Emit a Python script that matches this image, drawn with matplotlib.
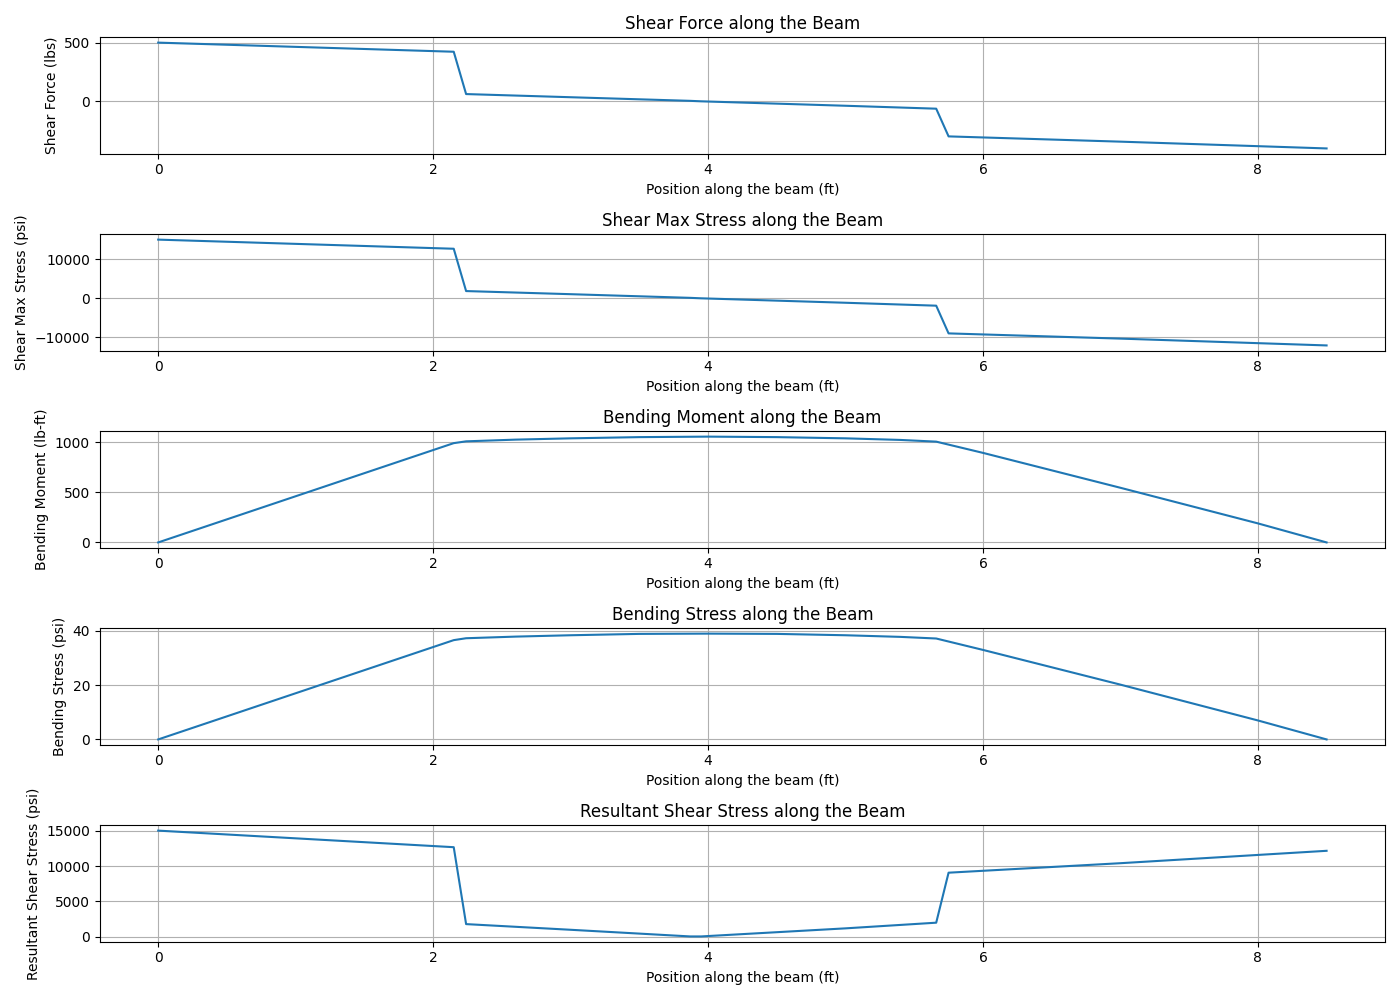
import matplotlib
matplotlib.use("Agg")
import matplotlib.pyplot as plt
from matplotlib.ticker import MultipleLocator

# positions along the beam (ft)
x_shear = [0, 2.15, 2.24, 3.0, 3.87, 3.95, 5.0, 5.66, 5.75, 7.0, 8.5]
shear_force = [500, 422, 60, 33, 2, -2, -40, -65, -302, -347, -405]
shear_max = [15000, 12660, 1800, 1000, 60, -60, -1200, -1950, -9060, -10400, -12150]
resultant = [15000, 12660, 1800, 1000, 60, 60, 1200, 2000, 9060, 10400, 12150]

x_moment = [0, 2.15, 2.24, 2.6, 3.0, 3.5, 4.0, 4.5, 5.0, 5.4, 5.66, 6.0, 7.0, 8.0, 8.5]
moment = [0, 990, 1008, 1025, 1038, 1050, 1055, 1050, 1038, 1022, 1005, 893, 545, 190, 0]
bend_stress = [0, 36.6, 37.3, 37.9, 38.4, 38.9, 39.0, 38.9, 38.4, 37.8, 37.2, 33.0, 20.2, 7.0, 0]

panels = [
    (x_shear, shear_force, "Shear Force along the Beam", "Shear Force (lbs)"),
    (x_shear, shear_max, "Shear Max Stress along the Beam", "Shear Max Stress (psi)"),
    (x_moment, moment, "Bending Moment along the Beam", "Bending Moment (lb-ft)"),
    (x_moment, bend_stress, "Bending Stress along the Beam", "Bending Stress (psi)"),
    (x_shear, resultant, "Resultant Shear Stress along the Beam", "Resultant Shear Stress (psi)"),
]

fig, axes = plt.subplots(5, 1, figsize=(14, 10))
for ax, (xs, ys, title, ylabel) in zip(axes, panels):
    ax.plot(xs, ys)
    ax.set_title(title)
    ax.set_xlabel("Position along the beam (ft)")
    ax.set_ylabel(ylabel)
    ax.grid(True)
axes[0].yaxis.set_major_locator(MultipleLocator(500))

plt.tight_layout()
plt.savefig("out.png", dpi=100)
